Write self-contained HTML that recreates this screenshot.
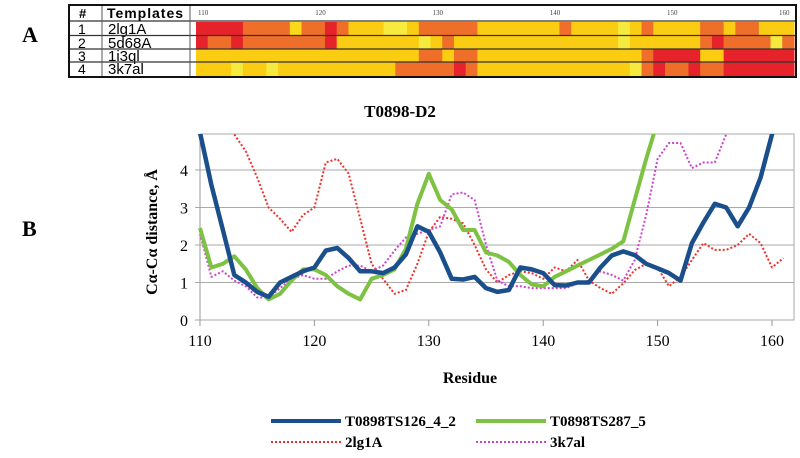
<!DOCTYPE html>
<html><head><meta charset="utf-8"><style>
body{margin:0;background:#fff;width:800px;height:453px;overflow:hidden;font-family:"Liberation Serif",serif}
svg text{font-family:"Liberation Serif",serif}
</style></head><body>
<svg id="fig" width="800" height="453" xmlns="http://www.w3.org/2000/svg">
<text x="22" y="42" font-size="22" font-weight="bold">A</text>
<text x="22" y="236" font-size="22" font-weight="bold">B</text>
<g id="table"></g>
<g id="chart"></g>
</svg>
<script>
const NS="http://www.w3.org/2000/svg";
function mk(p,t,a){const e=document.createElementNS(NS,t);for(const k in a)e.setAttribute(k,a[k]);p.appendChild(e);return e;}
const SANS='font-family:"Liberation Sans",sans-serif';
// ---- heatmap data ----
const templates=["2lg1A","5d68A","1i3ql","3k7al"];
const heatRow1="RRRROOOOYOOROGGGLLGOOOOOGGGGGGGOGGGGLGOGGGGOOGOOGGG";
const heatRow2="ROOROOOOOOORGGGGGGGLGOGGGGGGGGGGGGGGLGGGGGGOROOOOLO";
const heatRow3="GGGGGGGGGGGGGGGGGGGOOGOOGGGGGGGGGGGGGGORRRRGGRRRRRR";
const heatRow4="GGGLGGLGGGGGGGGGGOOOOOROGGGGGGGGGGGGGLOROOROORRRRRRR";
const heatRows=[heatRow1,heatRow2,heatRow3,heatRow4];
const heatTicks=[110,120,130,140,150,160];
const colorMap={R:"#e6232a",O:"#ee6e2a",G:"#fbcd12",Y:"#fbd81a",L:"#f6ea3e"};
const T=document.getElementById('table');
const hx0=196,hx1=794,cw=(hx1-hx0)/51;
const rowY=[22,36,49,62],rowH=[14,13,13,14];
heatRows.forEach((row,r)=>{
  for(let i=0;i<51;i++){
    const c=mk(T,'rect',{x:hx0+i*cw,y:rowY[r],width:cw+0.5,height:rowH[r],fill:colorMap[row[i]]||"#fbcd12"});
    
    
  }
  const n=mk(T,'text',{x:78,y:rowY[r]+12,'font-size':14,style:SANS});n.textContent=r+1;
  
  
  const l=mk(T,'text',{x:108,y:rowY[r]+12,'font-size':15,style:SANS});l.textContent=templates[r];
  
  
});
[21,35.5,49,62].forEach(y=>mk(T,'line',{x1:69,x2:796,y1:y,y2:y,stroke:'#333','stroke-width':1.2}));
[102,190].forEach(x=>mk(T,'line',{x1:x,x2:x,y1:6,y2:77,stroke:'#555','stroke-width':1}));
mk(T,'rect',{x:69,y:5,width:727,height:72,fill:'none',stroke:'#111','stroke-width':2});
let hh=mk(T,'text',{x:79,y:18,'font-size':13,'font-weight':'bold',style:SANS});hh.textContent="#";
hh=mk(T,'text',{x:107,y:18,'font-size':14,'font-weight':'bold',style:SANS,textLength:76});hh.textContent="Templates";
heatTicks.forEach(t=>{const e=mk(T,'text',{x:hx0+(t-110)*cw+2,y:15,'font-size':7,fill:'#444','text-anchor':t===160?'middle':'start'});e.textContent=t;
 
 });

// ---- line chart data ----
const residues=[110,111,112,113,114,115,116,117,118,119,120,121,122,123,124,125,126,127,128,129,130,131,132,133,134,135,136,137,138,139,140,141,142,143,144,145,146,147,148,149,150,151,152,153,154,155,156,157,158,159,160,161];
const ts126=[5.0,3.6,2.4,1.2,1.0,0.75,0.62,1.0,1.15,1.3,1.4,1.85,1.92,1.65,1.3,1.3,1.25,1.4,1.75,2.5,2.35,1.8,1.1,1.08,1.15,0.85,0.75,0.8,1.4,1.35,1.25,0.93,0.92,1.0,1.0,1.4,1.72,1.83,1.73,1.5,1.38,1.25,1.05,2.05,2.6,3.1,3.0,2.5,3.0,3.8,4.95,6.0];
const ts287=[2.45,1.4,1.5,1.7,1.35,0.85,0.55,0.7,1.05,1.35,1.35,1.2,0.9,0.7,0.55,1.1,1.2,1.35,1.9,3.1,3.9,3.2,2.95,2.4,2.4,1.8,1.72,1.55,1.2,0.95,0.9,1.15,1.3,1.45,1.6,1.75,1.9,2.1,3.2,4.3,5.3,null];
const t2lg1A=[6.5,6.0,5.3,4.95,4.5,3.8,3.0,2.7,2.35,2.8,3.0,4.2,4.3,3.9,2.7,1.5,1.1,0.7,0.8,1.5,2.35,2.75,2.7,2.58,2.0,1.35,1.0,1.2,1.3,1.25,1.1,1.4,1.3,1.6,1.05,0.85,0.7,0.98,1.33,1.5,1.4,0.9,1.15,1.6,2.05,1.87,1.87,2.0,2.3,2.05,1.4,1.65];
const t3k7aI=[2.3,1.15,1.3,1.05,0.9,0.6,0.6,0.85,1.1,1.2,1.1,1.1,1.3,1.45,1.45,1.3,1.45,1.85,2.2,2.3,2.4,2.5,3.35,3.4,3.2,2.0,1.05,0.9,0.9,0.85,0.85,0.85,0.85,0.98,1.05,1.3,1.2,1.05,1.6,2.8,4.3,4.72,4.72,4.05,4.2,4.2,4.95,5.6];
const xTicks=[110,120,130,140,150,160];
const yTicks=[0,1,2,3,4];
const C=document.getElementById('chart');
const X=v=>200+(v-110)*11.44, Y=v=>320-v*37.5;
const plotTop=134,plotRight=794;
mk(C,'defs',{}).innerHTML='<clipPath id="cp"><rect x="195" y="'+plotTop+'" width="'+(plotRight-195)+'" height="'+(326-plotTop)+'"/></clipPath>';
mk(C,'rect',{x:200,y:plotTop,width:plotRight-200,height:320-plotTop,fill:'none',stroke:'#aaa','stroke-width':1});
yTicks.forEach(t=>{
  mk(C,'line',{x1:195,x2:plotRight,y1:Y(t),y2:Y(t),stroke:'#aaa','stroke-width':1});
  const e=mk(C,'text',{x:188,y:Y(t)+6,'font-size':16,'text-anchor':'end'});e.textContent=t;
  
  
});
mk(C,'line',{x1:200,x2:200,y1:plotTop,y2:320,stroke:'#999'});
xTicks.forEach(t=>{
  mk(C,'line',{x1:X(t),x2:X(t),y1:320,y2:326,stroke:'#999'});
  const e=mk(C,'text',{x:X(t),y:346,'font-size':16,'text-anchor':'middle'});e.textContent=t;
  
  
});
const series=[
 {d:t2lg1A,c:'#f0302a',w:2,da:'2 2',n:'series-2lg1A'},
 {d:t3k7aI,c:'#cc44cc',w:2,da:'2 2',n:'series-3k7aI'},
 {d:ts287,c:'#7dc242',w:4,da:'',n:'series-T0898TS287_5'},
 {d:ts126,c:'#1b4f8c',w:4.5,da:'',n:'series-T0898TS126_4_2'}];
series.forEach(s=>{
  let p='';s.d.forEach((v,i)=>{if(v==null)return;p+=(p?'L':'M')+X(residues[i]).toFixed(1)+','+Y(v).toFixed(1);});
  const e=mk(C,'path',{d:p,fill:'none',stroke:s.c,'stroke-width':s.w,'stroke-dasharray':s.da,'stroke-linejoin':'round','clip-path':'url(#cp)'});
  
  
});
let e=mk(C,'text',{x:400,y:117,'font-size':17,'font-weight':'bold','text-anchor':'middle'});e.textContent="T0898-D2";

e=mk(C,'text',{x:470,y:383,'font-size':16,'font-weight':'bold','text-anchor':'middle'});e.textContent="Residue";

e=mk(C,'text',{x:0,y:0,'font-size':16,'font-weight':'bold','text-anchor':'middle',transform:'translate(157,232) rotate(-90)'});e.textContent="Cα-Cα distance, Å";

const leg=[
 {x:271,y:421,c:'#1b4f8c',w:4,da:'',t:'T0898TS126_4_2'},
 {x:476,y:421,c:'#7dc242',w:4,da:'',t:'T0898TS287_5'},
 {x:271,y:442,c:'#f0302a',w:2,da:'2 2',t:'2lg1A'},
 {x:476,y:442,c:'#cc44cc',w:2,da:'2 2',t:'3k7al'}];
leg.forEach(l=>{
  const g=mk(C,'g',{});
  
  
  mk(g,'line',{x1:l.x,x2:l.x+70,y1:l.y,y2:l.y,stroke:l.c,'stroke-width':l.w,'stroke-dasharray':l.da});
  const t=mk(g,'text',{x:l.x+74,y:l.y+5,'font-size':15,'font-weight':'bold'});t.textContent=l.t;
});
</script>
</body></html>
